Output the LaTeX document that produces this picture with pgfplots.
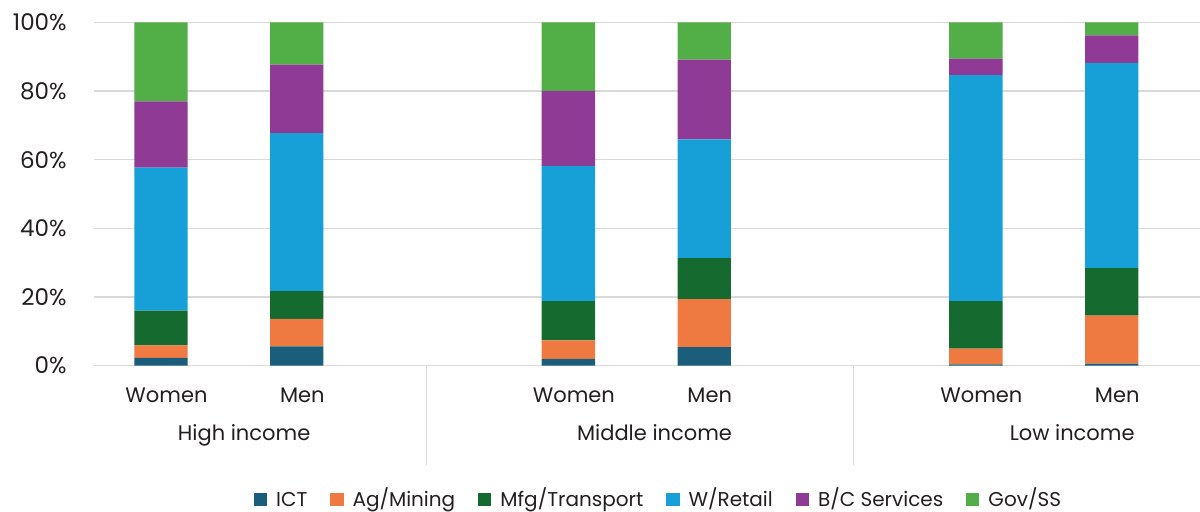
\documentclass[border=0pt]{standalone}
\usepackage{fontspec}
\setmainfont{Poppins}
\usepackage{pgfplots}
\usepackage{pgfplotstable}
\pgfplotsset{compat=1.18}

\definecolor{cICT}{HTML}{1B5E7B}
\definecolor{cAg}{HTML}{EE7A41}
\definecolor{cMfg}{HTML}{156A2F}
\definecolor{cRet}{HTML}{17A0D8}
\definecolor{cBC}{HTML}{8F3A95}
\definecolor{cGov}{HTML}{52AE47}
\definecolor{txt}{HTML}{231F20}
\definecolor{gridc}{HTML}{D9D9D9}

% Employment shares by sector (%), bars at slots 0,1 | 3,4 | 6,7
\pgfplotstableread{
x   ICT  Ag    Mfg   Ret   BC    Gov
0   2.3  3.6   10.1  41.7  19.3  23.0
1   5.6  8.0   8.1   46.0  20.0  12.3
3   2.0  5.4   11.4  39.4  21.8  20.0
4   5.4  14.0  11.9  34.6  23.2  10.9
6   0.4  4.6   13.8  65.8  4.8   10.6
7   0.6  14.0  13.8  59.8  8.0   3.8
}\shares

\pgfplotsset{
  sqleg/.style={legend image code/.code={
      \fill[##1] (0pt,-3.3pt) rectangle (6.6pt,3.3pt);}}
}

\begin{document}
\begin{tikzpicture}[font=\fontsize{10.5}{12}\selectfont, text=txt]
\path[use as bounding box] (-47pt,-73.15pt) rectangle (553pt,182.85pt);
\begin{axis}[
  scale only axis,
  width=553pt, height=171.7pt,
  ybar stacked,
  bar width=26.7pt,
  xmin=-0.493, xmax=7.65,
  ymin=0, ymax=100,
  ytick={0,20,40,60,80,100},
  yticklabel={\pgfmathprintnumber{\tick}\%},
  /pgf/number format/assume math mode=true,
  yticklabel style={anchor=east, inner sep=0pt, xshift=-13.5pt, text=txt,
    font=\fontsize{11.5}{12}\selectfont},
  xtick={0,1,3,4,6,7},
  xticklabels={Women,Men,Women,Men,Women,Men},
  xticklabel style={anchor=base, inner sep=0pt, yshift=-18.3pt, xshift=2.75pt, text=txt},
  axis line style={draw=none},
  tick style={draw=none},
  ymajorgrids,
  grid style={gridc, line width=0.65pt},
  clip=false,
  legend style={draw=none, fill=none, legend columns=-1,
    at={(rel axis cs:0.5095,-0.3896)}, anchor=center,
    font=\fontsize{10}{12}\selectfont,
    nodes={text height=7.5pt, text depth=0pt, inner sep=0pt},
    /tikz/every odd column/.append style={column sep=4.5pt},
    /tikz/every even column/.append style={column sep=11.5pt},
    legend cell align=left, text=txt},
]
\addplot[fill=cICT, draw=none, sqleg] table[x=x, y=ICT] {\shares};
\addplot[fill=cAg,  draw=none, sqleg] table[x=x, y=Ag]  {\shares};
\addplot[fill=cMfg, draw=none, sqleg] table[x=x, y=Mfg] {\shares};
\addplot[fill=cRet, draw=none, sqleg] table[x=x, y=Ret] {\shares};
\addplot[fill=cBC,  draw=none, sqleg] table[x=x, y=BC]  {\shares};
\addplot[fill=cGov, draw=none, sqleg] table[x=x, y=Gov] {\shares};
\legend{ICT, Ag/Mining, Mfg/Transport, W/Retail, B/C Services, Gov/SS}

% group separators and group names
\draw[gridc, line width=0.65pt] (axis cs:1.957,0) -- ([yshift=-49.5pt]axis cs:1.957,0);
\draw[gridc, line width=0.65pt] (axis cs:5.098,0) -- ([yshift=-49.5pt]axis cs:5.098,0);
\node[anchor=base, inner sep=0pt] at ([yshift=-37.5pt]axis cs:0.612,0) {High income};
\node[anchor=base, inner sep=0pt] at ([yshift=-37.5pt]axis cs:3.634,0) {Middle income};
\node[anchor=base, inner sep=0pt] at ([yshift=-37.5pt]axis cs:6.709,0) {Low income};
\end{axis}
\end{tikzpicture}
\end{document}
